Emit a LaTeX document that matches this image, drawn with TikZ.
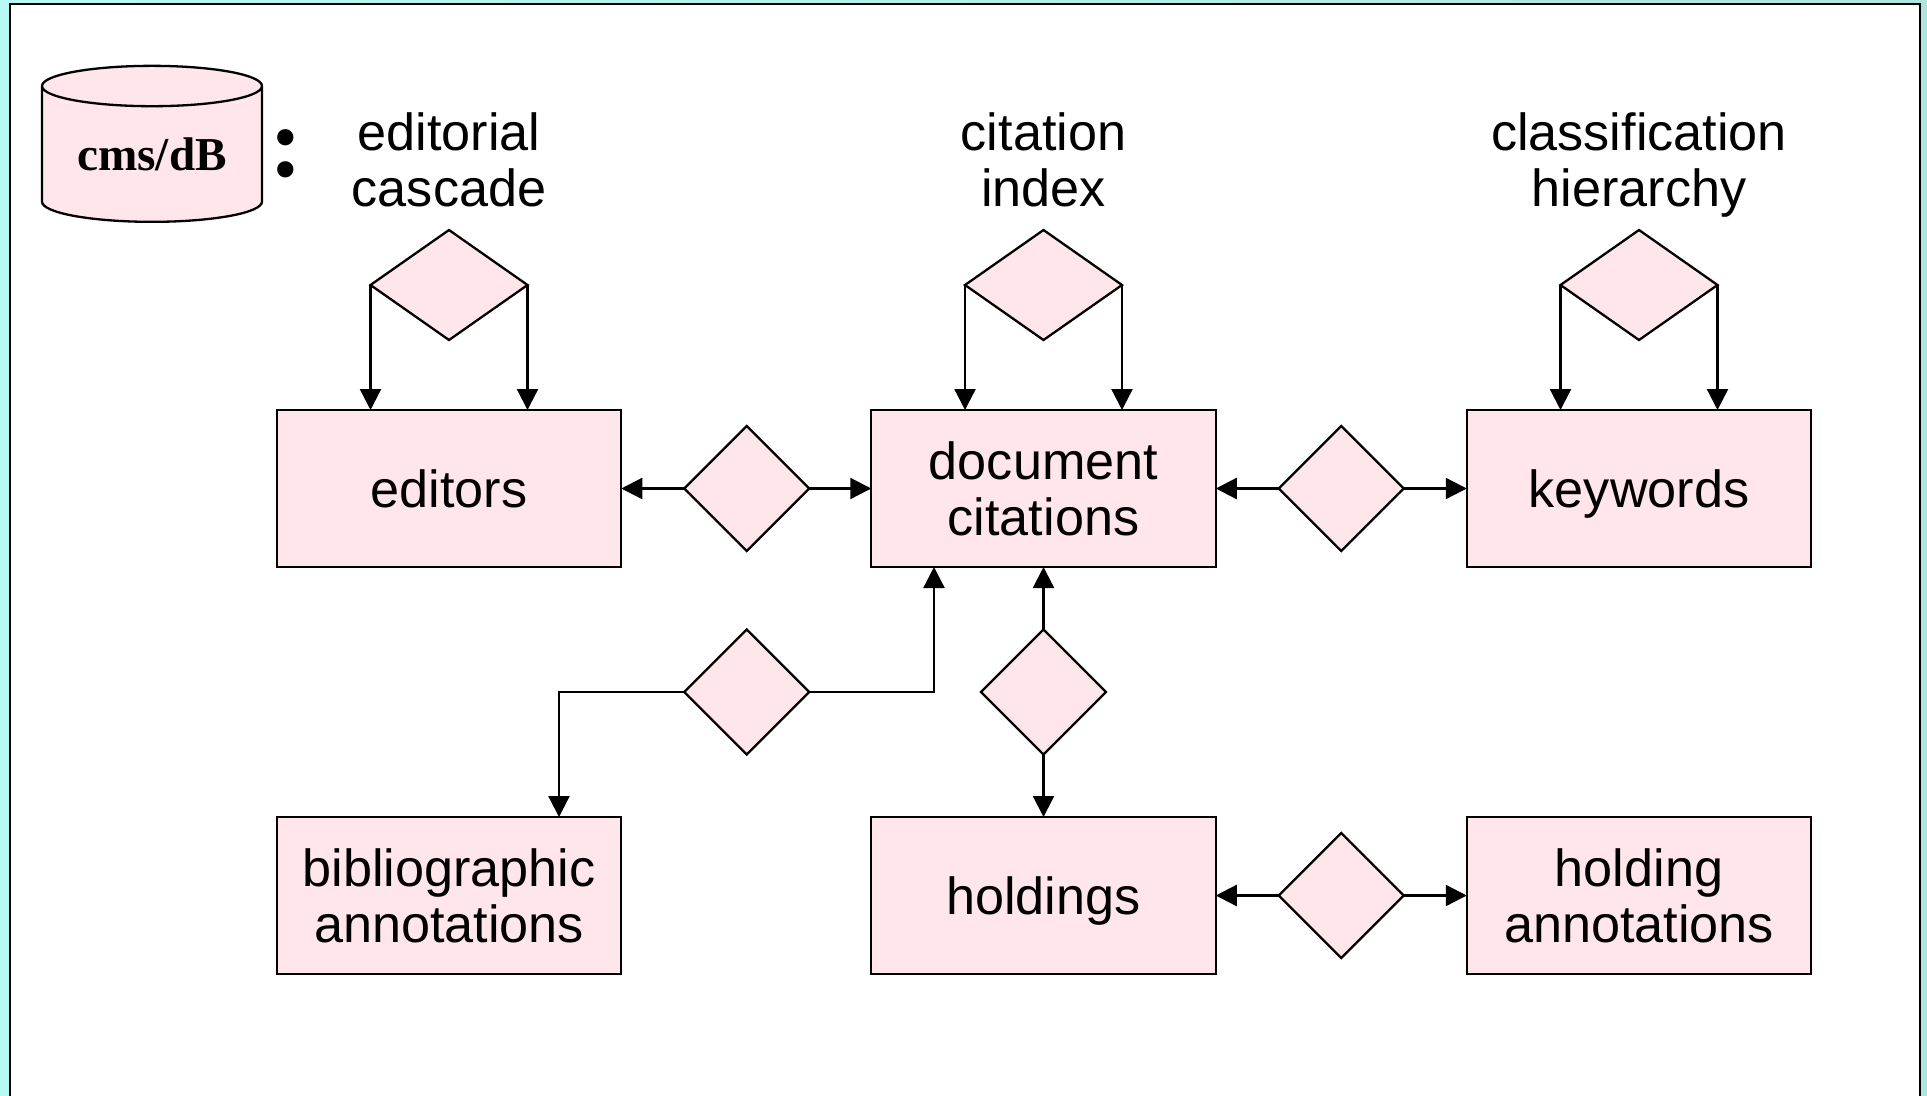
\documentclass[tikz,border=0pt]{standalone}
\usepackage{fontspec}
\setmainfont{Liberation Sans}
\newfontfamily\dbfont{Liberation Serif}
\usetikzlibrary{shapes.geometric, positioning, arrows.meta}

\definecolor{boxpink}{HTML}{FFE6EA}
\definecolor{edgeleft}{HTML}{B6FAF3}
\definecolor{edgeright}{HTML}{AEE5E0}

\begin{document}
\begin{tikzpicture}[x=1pt,y=-1pt,line width=2.3pt,>={Triangle[length=21pt,width=21pt]},
                    node distance=62.5pt and 63pt,
                    every node/.style={outer sep=0pt,inner sep=0pt,font=\fontsize{52.2}{56}\selectfont},
                    entity/.style={rectangle, draw, fill=boxpink, align=center,
                                   minimum width=344.5pt, minimum height=157pt},
                    oneline/.style={text height=38pt, text depth=0pt},
                    relation/.style={diamond, draw, fill=boxpink, minimum width=125pt, minimum height=125pt},
                    cascade/.style={diamond, draw, fill=boxpink, minimum width=157pt, minimum height=110pt},
                    caption/.style={align=center, text depth=0pt}]
    \useasboundingbox (0,0) rectangle (1927,1095);
    \fill[left color=edgeleft, right color=edgeright] (0,0) rectangle (1927,1095);
    \filldraw[fill=white] (10,1097) -- (10,4) -- (1920,4) -- (1920,1097);

    \node (citations)  [entity] at (1043.5,488.5)        {document\\citations};
    \node (citrel)     [relation, left = 62pt of citations] {};
    \node (editors)    [entity, oneline, left = of citrel] {editors};
    \node (keyrel)     [relation, right = of citations]  {};
    \node (keywords)   [entity, oneline, right = of keyrel] {keywords};
    \node (holdrel)    [relation, below = of citations]  {};
    \node (holdings)   [entity, oneline, below = of holdrel] {holdings};
    \node (noterel)    [relation, right = of holdings]   {};
    \node (holdnotes)  [entity, right = of noterel]      {holding\\annotations};
    \node (biblio)     [entity] at (editors |- holdings) {bibliographic\\annotations};
    \node (bibrel)     [relation] at (citrel |- holdrel) {};

    \node (edcascade)  [cascade, above = 70pt of editors]   {};
    \node (citindex)   [cascade, above = 70pt of citations] {};
    \node (hierarchy)  [cascade, above = 70pt of keywords]  {};
    \node (edtitle)    [caption, above = 24pt of edcascade] {editorial\\cascade};
    \node (cittitle)   [caption, above = 24pt of citindex]  {citation\\index};
    \node (hiertitle)  [caption, above = 24pt of hierarchy] {classification\\hierarchy};

    \node (cmsdb) [cylinder, shape border rotate=90, draw, fill=boxpink, aspect=0.27,
                   minimum width=220pt, minimum height=156pt,
                   font=\fontsize{47.2}{50}\selectfont\dbfont\bfseries] at (152,154.5) {cms/dB};
    \node (colon) [font=\fontsize{100}{100}\selectfont\dbfont\bfseries] at (286,154) {:};

    \path[->] (citrel)  edge [] (editors)
                        edge [] (citations);
    \path[->] (keyrel)  edge [] (citations)
                        edge [] (keywords);
    \path[->] (holdrel) edge [] (citations)
                        edge [] (holdings);
    \path[->] (noterel) edge [] (holdings)
                        edge [] (holdnotes);
    \draw[->] (bibrel.west) -| ([xshift=110pt]biblio.north);
    \draw[->] (bibrel.east) -| ([xshift=-109.5pt]citations.south);
    \path[->] (edcascade.west)  edge [] (edcascade.west |- editors.north)
              (edcascade.east)  edge [] (edcascade.east |- editors.north)
              (citindex.west)   edge [] (citindex.west |- citations.north)
              (citindex.east)   edge [] (citindex.east |- citations.north)
              (hierarchy.west)  edge [] (hierarchy.west |- keywords.north)
              (hierarchy.east)  edge [] (hierarchy.east |- keywords.north);
\end{tikzpicture}
\end{document}
